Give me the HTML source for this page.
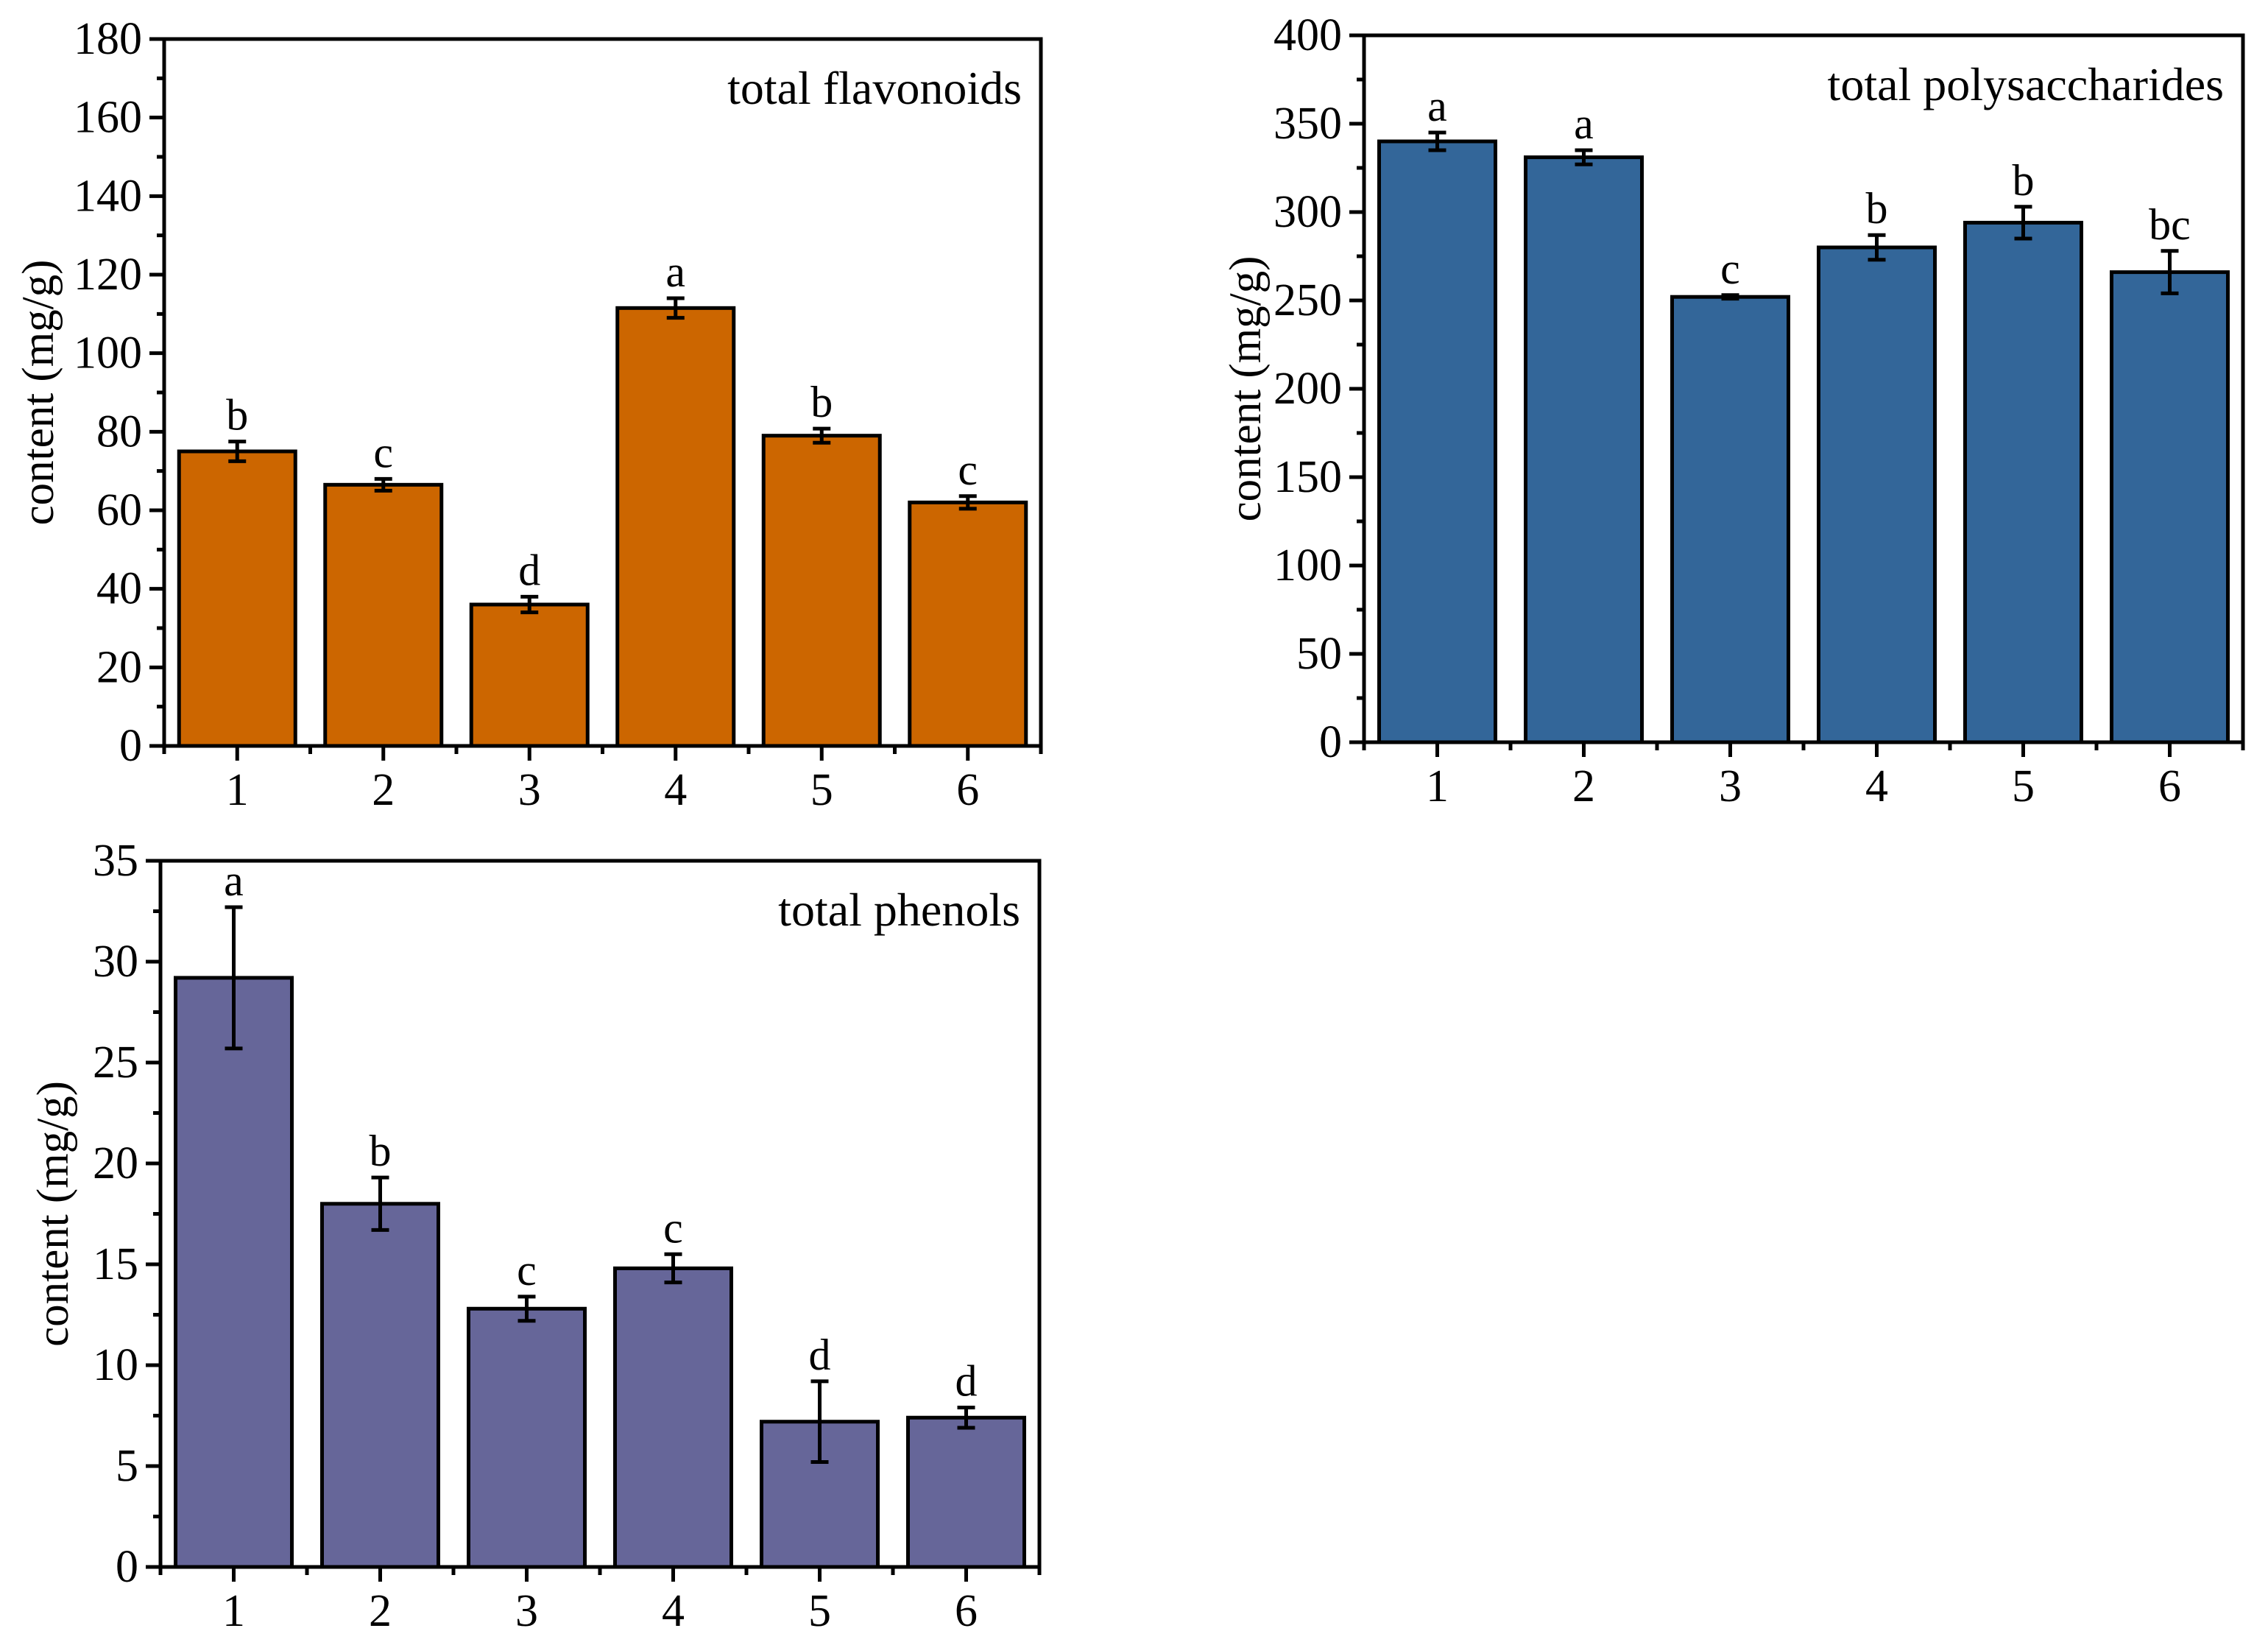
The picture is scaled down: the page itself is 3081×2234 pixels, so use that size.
<!DOCTYPE html>
<html><head><meta charset="utf-8"><style>
html,body{margin:0;padding:0;background:#fff;}
svg{display:block;}
text{font-family:"Liberation Serif",serif;fill:#000;}
</style></head><body>
<svg id="fig" width="3081" height="2234" viewBox="0 0 3081 2234" xmlns="http://www.w3.org/2000/svg"></svg>
<script>
const categories = ["1","2","3","4","5","6"];
const flavValues = [75, 66.5, 36, 111.5, 79, 62];
const flavErrors = [2.5, 1.5, 2, 2.5, 1.8, 1.6];
const flavLetters = ["b","c","d","a","b","c"];
const flavTicks = [0,20,40,60,80,100,120,140,160,180];
const polyValues = [340, 331, 252, 280, 294, 266];
const polyErrors = [5, 4, 1, 7, 9, 12];
const polyLetters = ["a","a","c","b","b","bc"];
const polyTicks = [0,50,100,150,200,250,300,350,400];
const phenValues = [29.2, 18, 12.8, 14.8, 7.2, 7.4];
const phenErrors = [3.5, 1.3, 0.6, 0.7, 2.0, 0.5];
const phenLetters = ["a","b","c","c","d","d"];
const phenTicks = [0,5,10,15,20,25,30,35];

const NS = "http://www.w3.org/2000/svg";
const svg = document.getElementById('fig');
function mk(tag, attrs, parent, txt){
  const e = document.createElementNS(NS, tag);
  for (const k in attrs) e.setAttribute(k, attrs[k]);
  if (txt !== undefined) e.textContent = txt;
  parent.appendChild(e);
  return e;
}
function chart(cfg){
  const g = mk('g', {}, svg);
  
  
  const L=cfg.left, R=cfg.right, T=cfg.top, B=cfg.bottom;
  const ymax = cfg.ticks[cfg.ticks.length-1];
  const y = v => B - (v/ymax)*(B-T);
  const cw = (R-L)/categories.length;
  const x = i => L + cw*(i+0.5);
  const bw = 158;
  categories.forEach((c,i)=>{
    const r = mk('rect', {x:x(i)-bw/2, y:y(cfg.values[i]), width:bw, height:B-y(cfg.values[i]), fill:cfg.color, stroke:'#000','stroke-width':5}, g);
    
    
    const v=cfg.values[i], e=cfg.errors[i];
    const eb = mk('path', {d:`M${x(i)},${y(v+e)}V${y(v-e)}M${x(i)-12},${y(v+e)}H${x(i)+12}M${x(i)-12},${y(v-e)}H${x(i)+12}`, stroke:'#000','stroke-width':5, fill:'none'}, g);
    
    
    const lt = mk('text', {x:x(i), y:y(v+e)-16, 'text-anchor':'middle','font-size':60}, g, cfg.letters[i]);
    
    
    const xl = mk('text', {x:x(i), y:B+80, 'text-anchor':'middle','font-size':62}, g, c);
    
    
  });
  const fr = mk('rect', {x:L, y:T, width:R-L, height:B-T, fill:'none', stroke:'#000','stroke-width':5}, g);
  
  
  let d='';
  cfg.ticks.forEach((t,k)=>{
    d += `M${L-20},${y(t)}H${L}`;
    if (k < cfg.ticks.length-1){
      const m = (t + cfg.ticks[k+1])/2;
      d += `M${L-10},${y(m)}H${L}`;
    }
    const tl = mk('text', {x:L-30, y:y(t)+20, 'text-anchor':'end','font-size':62}, g, String(t));
    
    
  });
  for (let i=0;i<=categories.length;i++){
    d += `M${L+cw*i},${B}V${B+11}`;
    if (i<categories.length) d += `M${x(i)},${B}V${B+20}`;
  }
  const tk = mk('path', {d:d, stroke:'#000','stroke-width':5, fill:'none'}, g);
  
  
  const yt = mk('text', {x:0, y:0, 'text-anchor':'middle','font-size':61, transform:`translate(${cfg.ylabelX},${(T+B)/2}) rotate(-90)`}, g, 'content (mg/g)');
  
  
  const ti = mk('text', {x:R-26, y:T+88, 'text-anchor':'end','font-size':64}, g, cfg.title);
  
  
}
chart({name:'flavonoids-chart', left:223, right:1414, top:53, bottom:1013, ticks:flavTicks, values:flavValues, errors:flavErrors, letters:flavLetters, color:'#CC6600', title:'total flavonoids', ylabelX:72});
chart({name:'polysaccharides-chart', left:1853, right:3047, top:48, bottom:1008, ticks:polyTicks, values:polyValues, errors:polyErrors, letters:polyLetters, color:'#336699', title:'total polysaccharides', ylabelX:1712});
chart({name:'phenols-chart', left:218, right:1412, top:1169, bottom:2128, ticks:phenTicks, values:phenValues, errors:phenErrors, letters:phenLetters, color:'#666699', title:'total phenols', ylabelX:92});
</script>
</body></html>
